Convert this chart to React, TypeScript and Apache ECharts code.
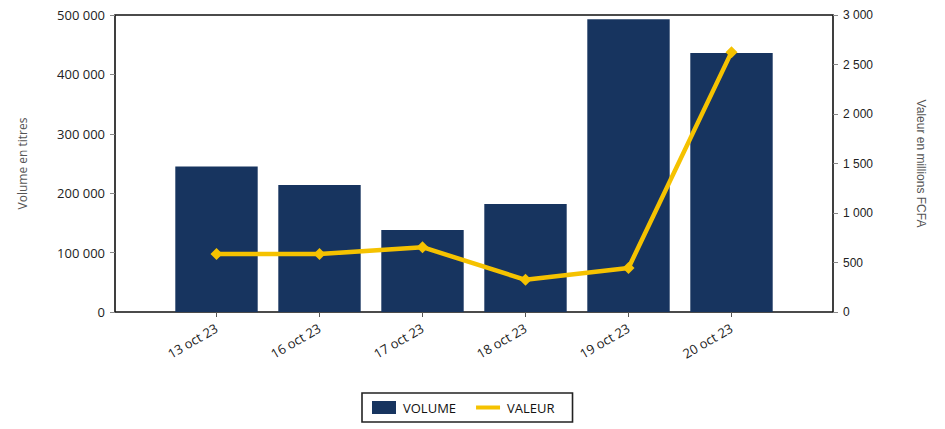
import React, { useEffect, useRef } from "react";
import * as echarts from "echarts";

const categories = ["13 oct 23", "16 oct 23", "17 oct 23", "18 oct 23", "19 oct 23", "20 oct 23"];
const volume = [245000, 214000, 138000, 182000, 493000, 436000];
const valeur = [585, 585, 655, 325, 445, 2625];
const leftTicks = { min: 0, max: 500000, interval: 100000 };
const rightTicks = { min: 0, max: 3000, interval: 500 };

const fmt = (v: number) => String(v).replace(/\B(?=(\d{3})+(?!\d))/g, " ");

export default function App() {
  const ref = useRef<HTMLDivElement>(null);
  useEffect(() => {
    document.body.style.margin = "0";
    const chart = echarts.init(ref.current!, null, { renderer: "svg" });
    const gridTop = 15;
    const gridH = 297;
    chart.setOption({
      animation: false,
      backgroundColor: "#ffffff",
      grid: [
        { left: 115, top: gridTop, width: 718, height: gridH, show: true, borderColor: "#111", borderWidth: 1.6, backgroundColor: "transparent" },
        { left: 165, top: gridTop, width: 618, height: gridH },
      ],
      legend: {
        left: 362,
        top: 393,
        orient: "horizontal",
        borderColor: "#222",
        borderWidth: 1.6,
        padding: [8, 18, 8, 10],
        itemGap: 20,
        itemWidth: 24,
        itemHeight: 13,
        textStyle: { fontFamily: "Open Sans", fontSize: 13, color: "#111", padding: [0, 0, 0, 2] },
        data: [
          { name: "VOLUME", icon: "rect" },
          { name: "VALEUR", icon: "path://M0,0 L24,0 L24,4 L0,4 Z" },
        ],
      },
      xAxis: [
        { gridIndex: 0, type: "value", min: 0, max: 1, show: false },
        {
          gridIndex: 1,
          type: "category",
          data: categories,
          axisLine: { show: false },
          axisTick: { show: true, alignWithLabel: true, length: 5, lineStyle: { color: "#555" } },
          axisLabel: { rotate: 30, margin: 15, fontFamily: "Open Sans", fontSize: 13, color: "#222" },
        },
      ],
      yAxis: [
        {
          gridIndex: 0,
          type: "value",
          position: "left",
          ...leftTicks,
          name: "Volume en titres",
          nameLocation: "middle",
          nameRotate: 90,
          nameGap: 87,
          nameTextStyle: { fontFamily: "Open Sans", fontSize: 12, color: "#555" },
          axisLine: { show: false },
          axisTick: { show: true, length: 5, lineStyle: { color: "#888" } },
          splitLine: { show: false },
          axisLabel: { formatter: (v: number) => fmt(v), fontFamily: "Open Sans", fontSize: 13, color: "#222", margin: 10 },
        },
        {
          gridIndex: 0,
          type: "value",
          position: "right",
          ...rightTicks,
          name: "Valeur en millions FCFA",
          nameLocation: "middle",
          nameRotate: -90,
          nameGap: 82,
          nameTextStyle: { fontFamily: "Liberation Sans", fontSize: 12, color: "#555" },
          axisLine: { show: false },
          axisTick: { show: true, length: 5, lineStyle: { color: "#888" } },
          splitLine: { show: false },
          axisLabel: { formatter: (v: number) => fmt(v), fontFamily: "Liberation Sans", fontSize: 12, color: "#222", margin: 10 },
        },
        { gridIndex: 1, type: "value", ...leftTicks, show: false, splitLine: { show: false } },
        { gridIndex: 1, type: "value", ...rightTicks, show: false, splitLine: { show: false } },
      ],
      series: [
        {
          name: "VOLUME",
          type: "bar",
          xAxisIndex: 1,
          yAxisIndex: 2,
          data: volume,
          barCategoryGap: "20%",
          itemStyle: { color: "#17345f" },
        },
        {
          name: "VALEUR",
          type: "line",
          xAxisIndex: 1,
          yAxisIndex: 3,
          data: valeur,
          symbol: "diamond",
          symbolSize: 12,
          lineStyle: { color: "#f5c200", width: 4.5 },
          itemStyle: { color: "#f5c200" },
        },
      ],
    });
    return () => chart.dispose();
  }, []);
  return <div ref={ref} style={{ width: 945, height: 429 }} />;
}
